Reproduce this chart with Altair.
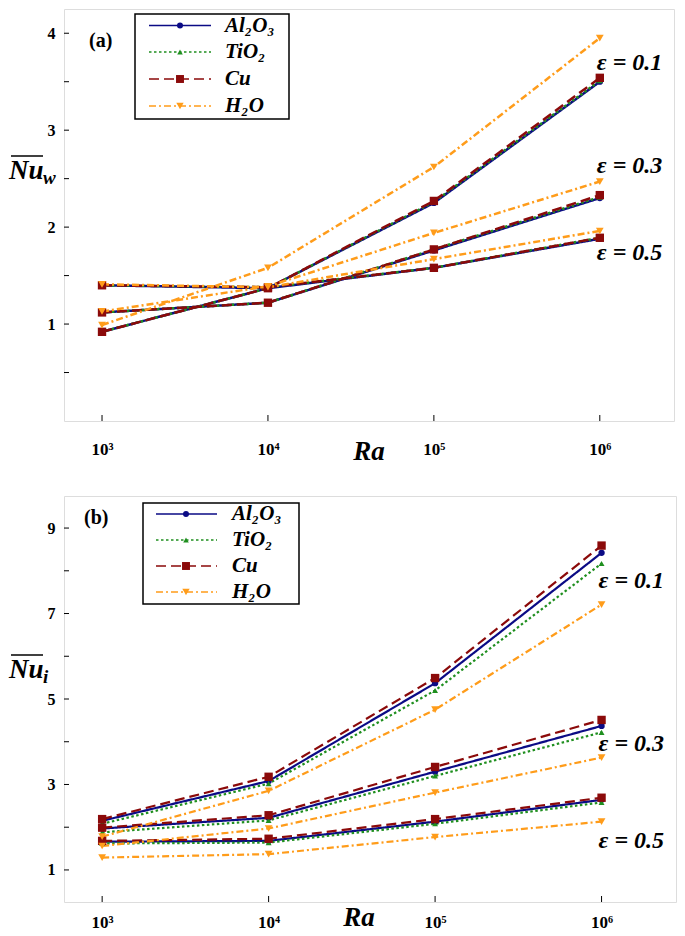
import altair as alt
import pandas as pd

# ---------------- data ----------------
RA = [1e3, 1e4, 1e5, 1e6]
FLUIDS = ["Al2O3", "TiO2", "Cu", "H2O"]
FLUID_LABELS = ["Al₂O₃", "TiO₂", "Cu", "H₂O"]
EPS = ["0.1", "0.3", "0.5"]

# panel (a): mean Nusselt number on the wall, per fluid and epsilon
nuw_al2o3 = {"0.1": [0.92, 1.37, 2.25, 3.50], "0.3": [1.12, 1.22, 1.76, 2.30], "0.5": [1.40, 1.37, 1.58, 1.88]}
nuw_tio2 = {"0.1": [0.92, 1.37, 2.26, 3.51], "0.3": [1.12, 1.22, 1.77, 2.31], "0.5": [1.40, 1.38, 1.58, 1.89]}
nuw_cu = {"0.1": [0.92, 1.37, 2.27, 3.54], "0.3": [1.12, 1.22, 1.77, 2.33], "0.5": [1.40, 1.38, 1.58, 1.89]}
nuw_h2o = {"0.1": [0.99, 1.58, 2.62, 3.95], "0.3": [1.13, 1.39, 1.94, 2.47], "0.5": [1.41, 1.38, 1.67, 1.96]}

# panel (b): mean Nusselt number on the inner body
nui_al2o3 = {"0.1": [2.15, 3.08, 5.37, 8.42], "0.3": [1.97, 2.22, 3.30, 4.37], "0.5": [1.66, 1.68, 2.13, 2.64]}
nui_tio2 = {"0.1": [2.08, 3.02, 5.20, 8.17], "0.3": [1.88, 2.16, 3.20, 4.22], "0.5": [1.62, 1.64, 2.08, 2.58]}
nui_cu = {"0.1": [2.19, 3.18, 5.49, 8.59], "0.3": [1.99, 2.28, 3.41, 4.51], "0.5": [1.68, 1.73, 2.19, 2.69]}
nui_h2o = {"0.1": [1.78, 2.85, 4.75, 7.21], "0.3": [1.56, 1.97, 2.81, 3.63], "0.5": [1.29, 1.37, 1.77, 2.13]}

# epsilon annotations (Ra, Nu)
eps_text = ["ε = 0.1", "ε = 0.3", "ε = 0.5"]
eps_pos_a = [3.69, 2.63, 1.73]
eps_pos_b = [7.77, 3.95, 1.68]

# y ticks
yticks_a = [0.5, 1.0, 1.5, 2.0, 2.5, 3.0, 3.5, 4.0]
ylabels_a = [1, 2, 3, 4]
yticks_b = [1, 2, 3, 4, 5, 6, 7, 8, 9]
ylabels_b = [1, 3, 5, 7, 9]

# ---------------- styles ----------------
COLORS = {"Al2O3": "#0b0b85", "TiO2": "#1f8f1f", "Cu": "#8b0a0a", "H2O": "#ff9c1a"}
DASHES = {"Al2O3": [1, 0], "TiO2": [2.5, 2.5], "Cu": [10, 5], "H2O": [7, 3, 2, 3]}
SHAPES = {"Al2O3": "circle", "TiO2": "triangle-up", "Cu": "square", "H2O": "triangle-down"}
SIZES = {"Al2O3": 40, "TiO2": 35, "Cu": 70, "H2O": 60}
SERIF = "Liberation Serif, Times New Roman, Liberation Sans, Arial, sans-serif"

XDOM = [590, 2.8e6]


def build_df(sets):
    rows = []
    for fluid, d in zip(FLUIDS, sets):
        for e in EPS:
            for ra, nu in zip(RA, d[e]):
                rows.append({"Ra": ra, "Nu": nu, "fluid": fluid, "eps": e})
    return pd.DataFrame(rows)


df_a = build_df([nuw_al2o3, nuw_tio2, nuw_cu, nuw_h2o])
df_b = build_df([nui_al2o3, nui_tio2, nui_cu, nui_h2o])

LABEL_EXPR = ("datum.value == 1000 ? '10³' : datum.value == 10000 ? '10⁴' : "
              "datum.value == 100000 ? '10⁵' : '10⁶'")

dummy = pd.DataFrame({"k": [0]})


def panel(df, ydom, yticks, ylabels, eps_pos, width, height, lw,
          legend, tag, tag_xy, sub, nu_y, ra_xy, xlabpad):
    xs = alt.Scale(type="log", domain=XDOM, nice=False)
    ys = alt.Scale(domain=ydom, nice=False, zero=False)
    X = alt.X("Ra:Q", scale=xs, axis=alt.Axis(
        values=RA, labelExpr=LABEL_EXPR, ticks=False, domain=False, grid=False,
        title=None, labelFont=SERIF, labelFontSize=17, labelFontWeight="bold",
        labelColor="black", labelPadding=xlabpad, labelFlush=False))
    Y = alt.Y("Nu:Q", scale=ys, axis=alt.Axis(
        values=ylabels, ticks=False, domain=False, grid=False, title=None,
        labelFont=SERIF, labelFontSize=16, labelFontWeight="bold",
        labelColor="black", labelPadding=9, labelFlush=False))

    layers = []
    order = ["Al2O3", "TiO2", "Cu", "H2O"]
    for f in order:
        sub_df = df[df.fluid == f]
        layers.append(alt.Chart(sub_df).mark_line(
            color=COLORS[f], strokeDash=DASHES[f], strokeWidth=lw
        ).encode(x=X, y=Y, detail="eps:N"))
    for f in order:
        sub_df = df[df.fluid == f]
        layers.append(alt.Chart(sub_df).mark_point(
            filled=True, color=COLORS[f], shape=SHAPES[f], size=SIZES[f], opacity=1
        ).encode(x=X, y=Y))

    # inside ticks
    xt = pd.DataFrame({"Ra": RA})
    layers.append(alt.Chart(xt).mark_rule(color="black", strokeWidth=1).encode(
        x=X, y=alt.value(height), y2=alt.value(height - 6)))
    yt = pd.DataFrame({"Nu": yticks})
    layers.append(alt.Chart(yt).mark_rule(color="black", strokeWidth=1).encode(
        y=Y, x=alt.value(0), x2=alt.value(5)))

    # epsilon labels
    et = pd.DataFrame({"Ra": [1e6] * 3, "Nu": eps_pos, "t": eps_text})
    layers.append(alt.Chart(et).mark_text(
        font=SERIF, fontSize=24, fontWeight="bold", fontStyle="italic",
        align="left", baseline="middle", dx=-3, color="black"
    ).encode(x=X, y=Y, text="t:N"))

    # legend box
    bx0, by0, bx1, by1, rows_y, lx0, lx1, mx, tx = legend
    layers.append(alt.Chart(dummy).mark_rect(
        fill="white", stroke="black", strokeWidth=1.5
    ).encode(x=alt.value(bx0), x2=alt.value(bx1), y=alt.value(by0), y2=alt.value(by1)))
    for f, lab, ry in zip(FLUIDS, FLUID_LABELS, rows_y):
        layers.append(alt.Chart(dummy).mark_rule(
            color=COLORS[f], strokeDash=DASHES[f], strokeWidth=1.6
        ).encode(x=alt.value(lx0), x2=alt.value(lx1), y=alt.value(ry)))
        layers.append(alt.Chart(dummy).mark_point(
            filled=True, color=COLORS[f], shape=SHAPES[f], size=SIZES[f] * 0.9, opacity=1
        ).encode(x=alt.value(mx), y=alt.value(ry)))
        layers.append(alt.Chart(dummy).mark_text(
            text=lab, font=SERIF, fontSize=21, fontWeight="bold", fontStyle="italic",
            align="left", baseline="middle", color="black"
        ).encode(x=alt.value(tx), y=alt.value(ry)))

    # panel tag
    layers.append(alt.Chart(dummy).mark_text(
        text=tag, font=SERIF, fontSize=20, fontWeight="bold", align="left",
        baseline="middle", color="black"
    ).encode(x=alt.value(tag_xy[0]), y=alt.value(tag_xy[1])))

    # y title: Nu with overline and subscript
    layers.append(alt.Chart(dummy).mark_text(
        text="Nu", font=SERIF, fontSize=27, fontWeight="bold", fontStyle="italic",
        align="left", baseline="alphabetic", color="black"
    ).encode(x=alt.value(-55), y=alt.value(nu_y)))
    layers.append(alt.Chart(dummy).mark_text(
        text=sub, font=SERIF, fontSize=19, fontWeight="bold", fontStyle="italic",
        align="left", baseline="alphabetic", color="black"
    ).encode(x=alt.value(-21), y=alt.value(nu_y + 5)))
    layers.append(alt.Chart(dummy).mark_rule(color="black", strokeWidth=1.5).encode(
        x=alt.value(-53), x2=alt.value(-21), y=alt.value(nu_y - 23)))

    # x title
    layers.append(alt.Chart(dummy).mark_text(
        text="Ra", font=SERIF, fontSize=27, fontWeight="bold", fontStyle="italic",
        align="center", baseline="alphabetic", color="black"
    ).encode(x=alt.value(ra_xy[0]), y=alt.value(ra_xy[1])))

    return alt.layer(*layers).properties(width=width, height=height)


top = panel(
    df_a, [0, 4.25], yticks_a, ylabels_a, eps_pos_a, 610, 412, 2.5,
    (71, 5, 225, 110, [16.5, 43, 70, 97], 85, 147, 116, 161),
    "(a)", (25, 32), "w", 170, (305, 451), 20)

bottom = panel(
    df_b, [0.25, 9.75], yticks_b, ylabels_b, eps_pos_b, 612, 406, 2.2,
    (79, 7, 235, 108, [18, 44, 70, 96], 92, 153, 122, 168),
    "(b)", (20, 22), "i", 182, (295, 430), 12)

chart = alt.vconcat(top, bottom, spacing=75, bounds="flush", padding=0).configure_view(
    stroke="black", strokeWidth=2
).configure(background="white")

chart.save("out.html", embed_options={"renderer": "svg", "actions": False})
